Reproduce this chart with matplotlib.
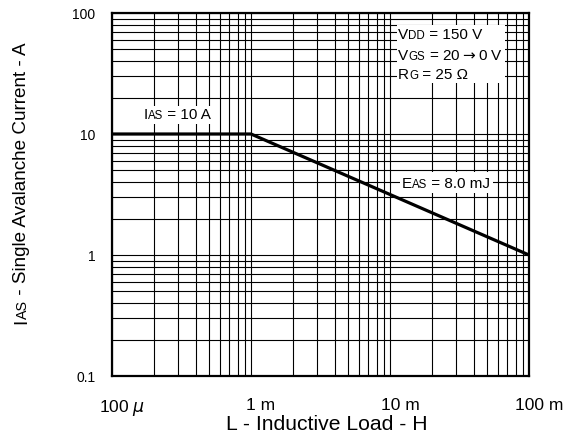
import matplotlib
matplotlib.use("Agg")
import matplotlib.pyplot as plt
from matplotlib.patches import Rectangle
from matplotlib.ticker import LogLocator, NullFormatter
from matplotlib.transforms import offset_copy

plt.rcParams['font.family'] = ['Liberation Sans', 'DejaVu Sans']

# avalanche current vs inductive load
load_h = [1e-4, 1e-3, 1e-1]
i_as = [10, 10, 1]

x_ticks = [1e-4, 1e-3, 1e-2, 1e-1]
x_ticklabels = ['100 $\\mu$', '1 m', '10 m', '100 m']
y_ticks = [0.1, 1, 10, 100]
y_ticklabels = ['0.1', '1', '10', '100']

fig = plt.figure(figsize=(5.66, 4.40), dpi=100)
ax = fig.add_axes([112 / 566, 64 / 440, 417 / 566, 363 / 440])
ax.set_xscale('log')
ax.set_yscale('log')
ax.set_xlim(1e-4, 1e-1)
ax.set_ylim(0.1, 100)

ax.xaxis.set_minor_locator(LogLocator(base=10, subs=range(2, 10)))
ax.yaxis.set_minor_locator(LogLocator(base=10, subs=range(2, 10)))
ax.xaxis.set_minor_formatter(NullFormatter())
ax.yaxis.set_minor_formatter(NullFormatter())
ax.set_xticks(x_ticks)
ax.set_xticklabels(x_ticklabels, fontsize=12.5)
ax.set_yticks(y_ticks)
ax.set_yticklabels(y_ticklabels, fontsize=10)
ax.tick_params(which='both', length=0)
ax.tick_params(axis='x', pad=16)
ax.tick_params(axis='y', pad=12)
# x tick labels sit a little right of their grid line
for lab in ax.get_xticklabels():
    lab.set_transform(offset_copy(lab.get_transform(), fig=fig, x=10, units='dots'))

ax.grid(True, which='both', color='black', lw=0.8)
ax.set_axisbelow(True)
for s in ax.spines.values():
    s.set_linewidth(1.6)

ax.plot(load_h, i_as, color='black', lw=2.3, solid_capstyle='butt', zorder=5)


def sub_text(x, y, parts, big=11, small=8.3):
    # text like I_AS with the small letters on the baseline
    prev = ax.text(x, y, parts[0], transform=ax.transAxes, fontsize=big,
                   va='baseline', ha='left', zorder=7)
    for i, s in enumerate(parts[1:]):
        fs = small if i % 2 == 0 else big
        prev = ax.annotate(s, xy=(1, 0), xycoords=prev, fontsize=fs,
                           va='bottom', ha='left', zorder=7)


def white_box(x0, y0, x1, y1):
    ax.add_patch(Rectangle((x0, y0), x1 - x0, y1 - y0, transform=ax.transAxes,
                           facecolor='white', edgecolor='none', zorder=6))


white_box(0.072, 0.694, 0.245, 0.744)
sub_text(0.0767, 0.708, ['I', 'AS', ' = 10 A'])

white_box(0.683, 0.807, 0.942, 0.967)
sub_text(0.686, 0.928, ['V', 'DD', ' = 150 V'])
sub_text(0.686, 0.871, ['V', 'GS', ' = 20$\\rightarrow$0 V'])
sub_text(0.686, 0.818, ['R', 'G', ' = 25 \u03a9'])

white_box(0.691, 0.504, 0.913, 0.562)
sub_text(0.695, 0.518, ['E', 'AS', ' = 8.0 mJ'])

fig.text(326.5 / 566, 10 / 440, 'L - Inductive Load - H', fontsize=15.2,
         ha='center', va='baseline')

# y label with small letters after the I, rotated
t0 = fig.text(21.5 / 566, 1 - 324 / 440, 'I', rotation=90, fontsize=13.6,
              va='bottom', ha='center')
t1 = fig.text(0, 0, 'AS', rotation=90, fontsize=10.3, ha='center', va='bottom')
t2 = fig.text(0, 0, ' - Single Avalanche Current - A', rotation=90,
              fontsize=13.6, ha='center', va='bottom')
fig.canvas.draw()
r = fig.canvas.get_renderer()
inv = fig.transFigure.inverted()
bb0 = t0.get_window_extent(r)
bb1 = t1.get_window_extent(r)
xr = bb0.x1
t1.set_position(inv.transform((xr - bb1.width / 2, bb0.y1)))
bb1 = t1.get_window_extent(r)
bb2 = t2.get_window_extent(r)
t2.set_position(inv.transform((xr - bb2.width / 2, bb1.y1)))

fig.savefig('out.png', dpi=100)
